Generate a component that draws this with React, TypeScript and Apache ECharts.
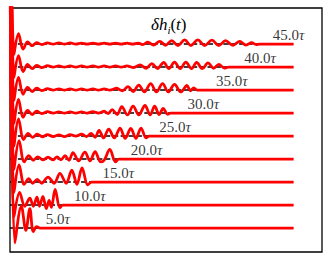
import React, { useEffect, useRef } from "react";
import * as echarts from "echarts";

// label times (in units of tau) and label texts
const labelTimes = [5, 10, 15, 20, 25, 30, 35, 40, 45];
const labelTexts = ["5.0", "10.0", "15.0", "20.0", "25.0", "30.0", "35.0", "40.0", "45.0"];

// each trace: [t, deviation from its baseline]
const trace5 = [[0, 12], [0.85, -0.65], [2.0, 0.95], [2.8, -0.1], [3.5, 0.85], [4.1, -0.15], [4.7, 0.06], [5.3, 0], [50, 0]];
const trace10 = [[0, 12], [0.7, -0.5], [1.7, 0.55], [2.6, -0.05], [3.5, 0.3], [4.1, -0.05], [4.75, 0.35], [5.2, -0.05], [5.8, 0.38], [6.4, -0.15], [6.9, 0.2], [7.3, -0.1], [7.95, 0.68], [8.8, -0.12], [9.3, 0], [50, 0]];
const trace15 = [[0, 12], [0.7, -0.45], [1.6, 0.75], [2.5, -0.1], [3.3, 0.15], [4.0, -0.05], [4.8, 0.12], [5.6, -0.05], [6.7, 0.22], [7.8, -0.05], [8.8, 0.38], [9.9, -0.05], [10.9, 0.52], [11.8, -0.1], [12.7, 0.62], [13.7, -0.12], [14.4, 0], [50, 0]];
const trace20 = [[0, 12], [0.7, -0.45], [1.6, 0.8], [2.5, -0.12], [3.3, 0.15], [4.1, -0.05], [4.9, 0.1], [5.8, -0.03], [6.7, 0.08], [7.6, -0.03], [8.3, 0.1], [9.0, -0.03], [9.7, 0.15], [10.4, -0.05], [11.1, 0.28], [12.1, -0.08], [13.2, 0.3], [14.1, -0.08], [15.0, 0.32], [16.0, -0.12], [16.6, -0.05], [17.6, 0.42], [18.6, -0.12], [19.2, 0], [50, 0]];
const trace25 = [[0, 12], [0.7, -0.45], [1.5, 0.75], [2.4, -0.15], [3.2, 0.12], [4.0, -0.06], [4.8, 0.08], [5.7, -0.03], [6.6, 0.06], [7.6, -0.02], [8.6, 0.05], [9.6, -0.02], [10.6, 0.06], [11.6, 0.0], [12.6, 0.08], [13.5, -0.02], [14.3, 0.12], [15.0, -0.05], [15.7, 0.25], [16.5, -0.08], [17.4, 0.3], [18.4, -0.08], [19.4, 0.35], [20.3, -0.1], [21.3, 0.33], [22.2, -0.1], [23.1, 0.35], [24.0, -0.08], [24.5, 0], [50, 0]];
const trace30 = [[0, 12], [0.7, -0.45], [1.5, 0.6], [2.3, -0.18], [3.1, 0.12], [3.9, -0.06], [4.7, 0.08], [5.6, -0.02], [6.6, 0.06], [7.6, 0.0], [8.6, 0.05], [9.6, 0.0], [10.6, 0.05], [11.6, 0.0], [12.6, 0.05], [13.6, 0.0], [14.6, 0.06], [15.6, 0.0], [16.6, 0.08], [17.3, -0.02], [18.0, 0.15], [18.9, -0.06], [19.7, 0.28], [20.7, -0.08], [21.7, 0.3], [22.7, -0.08], [23.8, 0.33], [24.7, -0.08], [25.5, 0.3], [26.3, -0.06], [27.0, 0.2], [27.8, -0.05], [28.3, 0], [50, 0]];
const trace35 = [[0, 12], [0.7, -0.45], [1.5, 0.55], [2.3, -0.18], [3.1, 0.12], [3.9, -0.06], [4.7, 0.08], [5.6, -0.02], [6.6, 0.06], [7.6, 0.0], [8.6, 0.05], [9.6, 0.0], [10.6, 0.05], [11.6, 0.0], [12.6, 0.05], [13.6, 0.0], [14.6, 0.05], [15.6, 0.0], [16.6, 0.05], [17.6, 0.0], [18.8, 0.08], [19.8, -0.03], [20.8, 0.15], [21.7, -0.06], [22.7, 0.22], [23.7, -0.08], [24.8, 0.28], [25.8, -0.08], [26.9, 0.28], [27.9, -0.08], [29.0, 0.25], [30.1, -0.08], [31.2, 0.2], [31.8, -0.03], [32.4, 0.1], [33.0, 0], [50, 0]];
const trace40 = [[0, 12], [0.7, -0.45], [1.5, 0.5], [2.3, -0.2], [3.1, 0.12], [3.9, -0.07], [4.7, 0.07], [5.6, -0.02], [6.6, 0.06], [7.6, 0.0], [8.6, 0.05], [9.6, 0.0], [10.6, 0.05], [11.6, 0.0], [12.6, 0.05], [13.6, 0.0], [14.6, 0.05], [15.6, 0.0], [16.6, 0.05], [17.6, 0.0], [18.6, 0.05], [19.6, 0.0], [20.6, 0.05], [21.8, -0.02], [22.9, 0.1], [24.0, -0.05], [25.0, 0.15], [26.0, -0.06], [27.1, 0.2], [28.0, -0.07], [29.0, 0.22], [30.0, -0.07], [31.0, 0.22], [32.0, -0.07], [32.9, 0.2], [33.9, -0.07], [34.9, 0.18], [35.9, -0.05], [36.8, 0.12], [37.8, -0.04], [38.5, 0], [50, 0]];
const trace45 = [[0, 12], [0.7, -0.45], [1.5, 0.46], [2.3, -0.22], [3.1, 0.1], [3.9, -0.07], [4.7, 0.06], [5.6, -0.02], [6.6, 0.05], [7.6, 0.0], [8.6, 0.05], [9.6, 0.0], [10.6, 0.05], [11.6, 0.0], [12.6, 0.04], [13.6, 0.0], [14.6, 0.04], [15.6, 0.0], [16.6, 0.04], [17.6, 0.0], [18.6, 0.04], [19.6, 0.0], [20.6, 0.04], [21.6, 0.0], [22.6, 0.04], [23.4, -0.02], [24.3, 0.08], [25.3, -0.04], [26.4, 0.12], [27.4, -0.05], [28.5, 0.15], [29.6, -0.06], [30.8, 0.18], [31.9, -0.06], [33.1, 0.18], [34.3, -0.06], [35.6, 0.17], [36.8, -0.06], [38.0, 0.15], [39.3, -0.05], [40.5, 0.12], [41.6, -0.04], [42.6, 0.06], [43.4, -0.02], [44.0, 0], [50, 0]];

const traces = [trace5, trace10, trace15, trace20, trace25, trace30, trace35, trace40, trace45];
const tStart = 0;
const tEnd = 50;

const SERIF = "'Liberation Serif', 'Times New Roman', serif";

export default function App() {
  const ref = useRef<HTMLDivElement>(null);
  useEffect(() => {
    const chart = echarts.init(ref.current!, null, { renderer: "svg" });
    const series: any[] = [];
    traces.forEach((_, i) => {
      const k = i + 1;
      series.push({
        type: "line",
        data: [[tStart, k], [tEnd, k]],
        showSymbol: false,
        silent: true,
        z: 2,
        lineStyle: { color: "#000", width: 1.5, type: [5.5, 2.4] },
      });
    });
    traces.forEach((tr, i) => {
      const k = i + 1;
      series.push({
        type: "line",
        data: tr.map(([t, d]) => [t, k + d]),
        showSymbol: false,
        silent: true,
        smooth: 0.35,
        z: 3,
        lineStyle: { color: "#ff0000", width: 2.8, join: "round" },
      });
    });
    series.push({
      type: "scatter",
      symbolSize: 0,
      silent: true,
      z: 4,
      data: labelTimes.map((t, i) => ({ value: [t + 1.3, i + 1 + 0.4], name: labelTexts[i] })),
      label: {
        show: true,
        position: "right",
        distance: 0,
        fontFamily: SERIF,
        fontWeight: "normal",
        fontSize: 15,
        color: "#000",
        formatter: (p: any) => `{n|${p.name}}{g|τ}`,
        rich: {
          n: { fontFamily: SERIF, fontWeight: "normal", fontSize: 15, color: "#000" },
          g: { fontFamily: SERIF, fontWeight: "normal", fontSize: 15, fontStyle: "italic", color: "#000" },
        },
      },
    });
    chart.setOption({
      animation: false,
      backgroundColor: "#fff",
      title: {
        text: "{a|δh}{b|i}{c|(}{a|t}{c|)}",
        left: 151,
        top: 14,
        padding: 0,
        textStyle: {
          fontFamily: SERIF,
          fontWeight: "normal",
          fontSize: 17,
          color: "#000",
          rich: {
            a: { fontFamily: SERIF, fontWeight: "normal", fontStyle: "italic", fontSize: 17, color: "#000", lineHeight: 21 },
            b: { fontFamily: SERIF, fontWeight: "normal", fontStyle: "italic", fontSize: 11, color: "#000", lineHeight: 10, verticalAlign: "bottom" },
            c: { fontFamily: SERIF, fontWeight: "normal", fontSize: 17, color: "#000", lineHeight: 21 },
          },
        },
      },
      grid: { left: 10, right: 10, top: 8, bottom: 9, show: true, borderColor: "#000", borderWidth: 1.3, backgroundColor: "#fff" },
      xAxis: {
        type: "value",
        min: 0,
        max: 55,
        axisLine: { show: false },
        axisTick: { show: false },
        axisLabel: { show: false },
        splitLine: { show: false },
      },
      yAxis: {
        type: "value",
        min: -0.04,
        max: 10.57,
        axisLine: { show: false },
        axisTick: { show: false },
        axisLabel: { show: false },
        splitLine: { show: false },
      },
      series,
    });
    return () => chart.dispose();
  }, []);
  return <div ref={ref} style={{ position: "absolute", left: 0, top: 0, width: 332, height: 261 }} />;
}
